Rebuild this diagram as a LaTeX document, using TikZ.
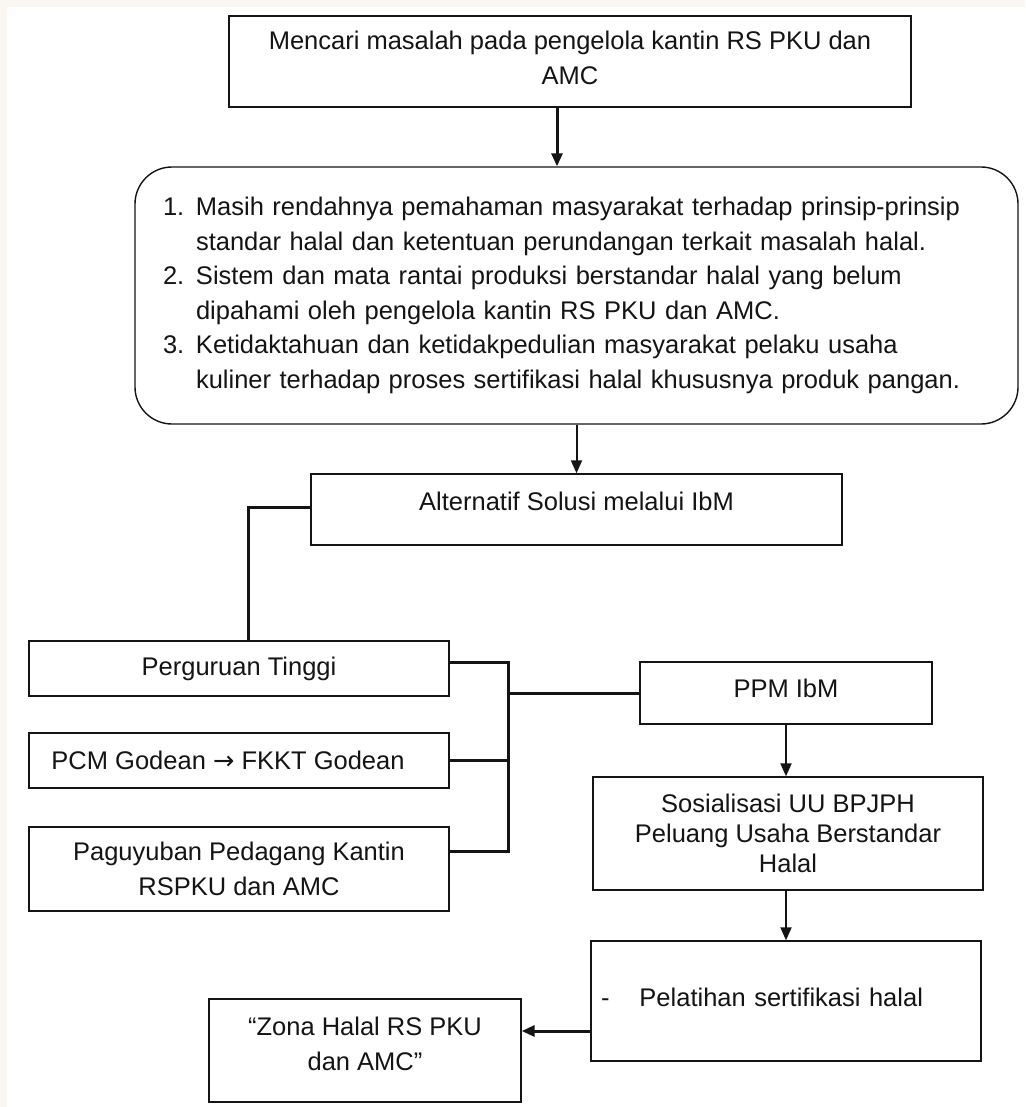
\documentclass[tikz,border=0pt]{standalone}
\usepackage{fontspec}
\setmainfont{Liberation Sans}
\newfontfamily\arrowfont{DejaVu Sans}
\usetikzlibrary{arrows.meta,calc}
\definecolor{cream}{RGB}{250,246,242}
\definecolor{ink}{RGB}{20,20,20}
\begin{document}
\begin{tikzpicture}[x=1pt,y=-1pt]
\tikzset{
  box/.style={draw=ink, line width=1.4pt, inner sep=0pt, align=center, text=ink,
              font=\fontsize{25.5}{35}\selectfont},
  arr/.style={draw=ink, line width=2pt, -{Triangle[length=13pt,width=11pt]}},
  conn/.style={draw=ink, line width=3pt}
}
% background
\fill[cream] (0,0) rectangle (1025,1107);
\fill[white] (7,7) rectangle (1025,1107);
\useasboundingbox (0,0) rectangle (1025,1107);

% nodes
\node[box, minimum width=682pt, minimum height=91pt, text depth=8pt] (top) at (570,61.5)
  {Mencari masalah pada pengelola kantin RS PKU dan\\AMC};

\node[box, rounded corners=37pt, minimum width=883pt, minimum height=257pt,
      text width=827pt, align=left, font=\fontsize{25.5}{34.6}\selectfont] (prob) at (576.5,295.5)
  {\makebox[33pt][l]{1.}Masih rendahnya pemahaman masyarakat terhadap prinsip-prinsip\\
   \hspace*{33pt}standar halal dan ketentuan perundangan terkait masalah halal.\\
   \makebox[33pt][l]{2.}Sistem dan mata rantai produksi berstandar halal yang belum\\
   \hspace*{33pt}dipahami oleh pengelola kantin RS PKU dan AMC.\\
   \makebox[33pt][l]{3.}Ketidaktahuan dan ketidakpedulian masyarakat pelaku usaha\\
   \hspace*{33pt}kuliner terhadap proses sertifikasi halal khususnya produk pangan.};

\node[box, minimum width=531pt, minimum height=71pt, text depth=16pt] (alt) at (576.5,509.5)
  {Alternatif Solusi melalui IbM};

\node[box, minimum width=420pt, minimum height=55pt] (pt) at (239,668.5)
  {Perguruan Tinggi};
\node[box, minimum width=420pt, minimum height=55pt] (pcm) at (239,760.5)
  {PCM Godean {\arrowfont →} FKKT Godean\hspace*{22pt}};
\node[box, minimum width=420pt, minimum height=84pt] (pg) at (239,869)
  {Paguyuban Pedagang Kantin\\RSPKU dan AMC};

\node[box, minimum width=292pt, minimum height=62pt, text depth=10pt] (ppm) at (786,693)
  {PPM IbM};
\node[box, minimum width=390pt, minimum height=113pt, font=\fontsize{25.5}{30}\selectfont] (sos) at (788,833.5)
  {Sosialisasi UU BPJPH\\Peluang Usaha Berstandar\\Halal};
\node[box, minimum width=390pt, minimum height=120pt, text width=370pt, align=left, text depth=8pt] (pel) at (786,1001)
  {-\hspace*{30pt}Pelatihan sertifikasi halal};
\node[box, minimum width=312pt, minimum height=103pt, text depth=14pt] (zona) at (365,1050.5)
  {“Zona Halal RS PKU\\dan AMC”};

% connectors
\draw[arr, line width=3pt] ([xshift=-13pt]top.south) -- ([xshift=-13pt]top.south |- prob.north);
\draw[arr] (prob.south) -- (alt.north);
\draw[conn] ([yshift=2.5pt]alt.west) -| ([xshift=9pt]pt.north);

\coordinate (btop) at (508,662);
\coordinate (bbot) at (508,851);
\draw[conn, line join=miter] (pt.east |- btop) -- (btop) -- (bbot) -- (pg.east |- bbot);
\draw[conn] (pcm.east) -- (pcm.east -| btop);
\draw[conn] (btop |- ppm.west) -- (ppm.west);

\draw[arr] (ppm.south) -- (ppm.south |- sos.north);
\draw[arr] (pel.north |- sos.south) -- (pel.north);
\draw[arr, line width=3pt] ([yshift=-30pt]pel.west) -- ([yshift=-30pt]pel.west -| zona.east);
\end{tikzpicture}
\end{document}
